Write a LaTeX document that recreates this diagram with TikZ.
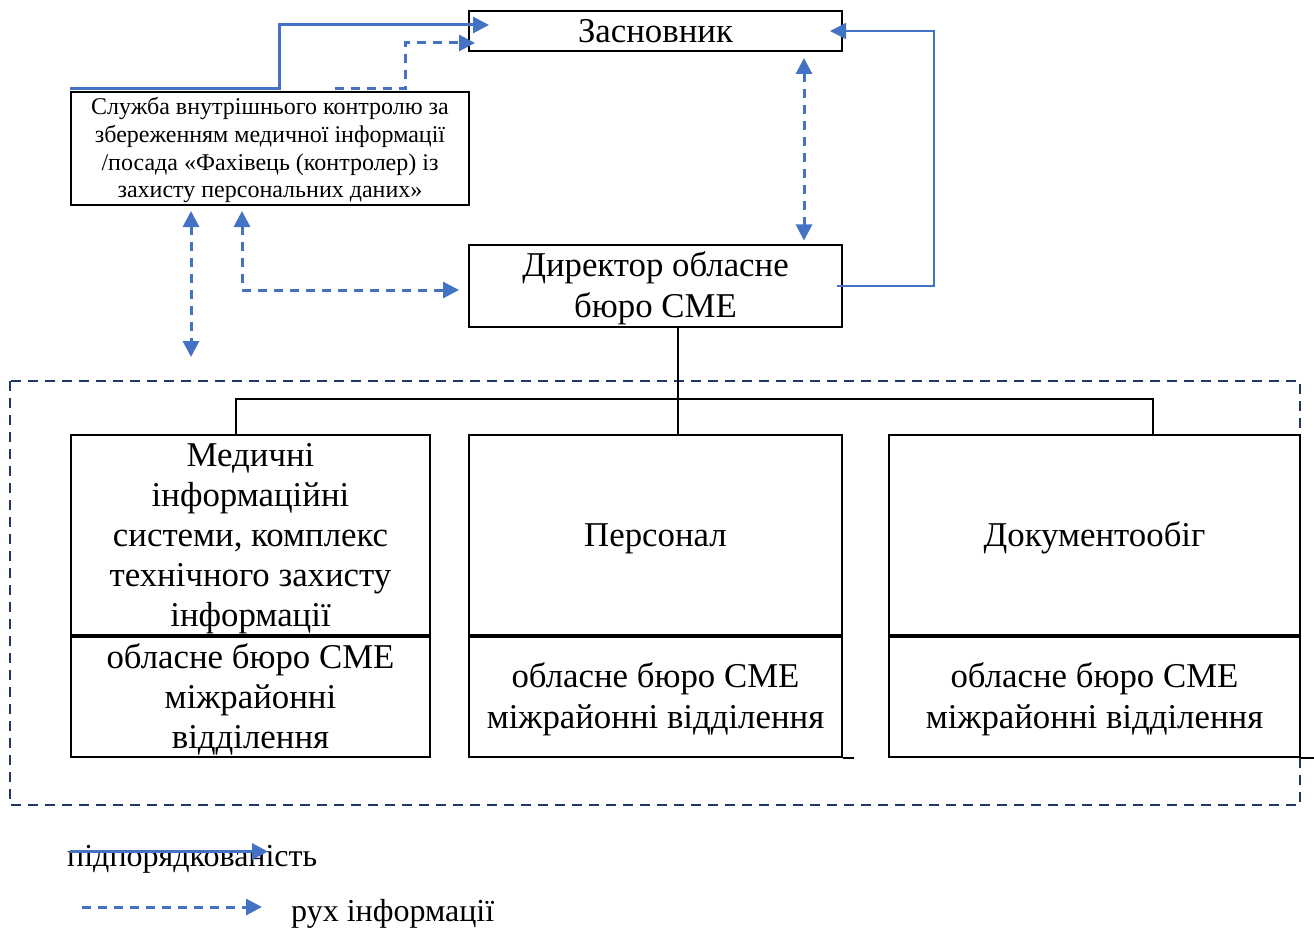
\documentclass[tikz,border=0pt]{standalone}
\usepackage{fontspec}
\setmainfont{Liberation Serif}
\usetikzlibrary{arrows.meta}

\definecolor{linkblue}{HTML}{4472C4}
\definecolor{framenavy}{HTML}{203864}

\newcommand{\bigtext}{\fontsize{34.8}{40}\selectfont}
\newcommand{\smalltext}{\fontsize{24}{27.8}\selectfont}
\newcommand{\legtext}{\fontsize{32}{36}\selectfont}
\newcommand{\ls}{\rule[-0.25em]{0pt}{1.15em}}

\begin{document}
\begin{tikzpicture}[x=1pt,y=-1pt,
  >={Triangle[length=16pt,width=16pt]},
  box/.style={draw,line width=2pt,inner sep=0pt,align=center,font=\bigtext},
  sub/.style={linkblue,line width=3pt,->},
  info/.style={linkblue,line width=3pt,dash pattern=on 9pt off 7pt},
  tree/.style={line width=2pt}]

\useasboundingbox (0,0) rectangle (1314,928);

%====================================================
% Top level
%====================================================
\node[box,minimum width=373pt,minimum height=40pt] (zasn) at (655.5,31) {Засновник};

\node[box,font=\smalltext,minimum width=398pt,minimum height=113pt] (sluzh) at (270,148.5)
{\ls Служба внутрішнього контролю за\\ збереженням медичної інформації\\ /посада «Фахівець (контролер) із\\ захисту персональних даних»\ls};

\node[box,minimum width=373pt,minimum height=80pt] (dyr) at (655.5,286) {\ls Директор обласне\\ бюро СМЕ\ls};

%====================================================
% Units inside the dashed frame
%====================================================
\draw[framenavy,line width=2.2pt,dash pattern=on 10pt off 7pt] (10,381) rectangle (1300,805);

% Left column
\node[box,minimum width=359pt,minimum height=200pt] (medtop) at (250.5,535)
{\ls Медичні\\ інформаційні\\ системи, комплекс\\ технічного захисту\\ інформації\ls};
\node[box,minimum width=359pt,minimum height=120pt,anchor=north] (medbot) at (medtop.south)
{\ls обласне бюро СМЕ\\ міжрайонні\\ відділення\ls};

% Middle column
\node[box,minimum width=373pt,minimum height=200pt] (pers) at (655.5,535) {\ls Персонал\ls};
\node[box,minimum width=373pt,minimum height=120pt,anchor=north] (persbot) at (pers.south)
{\ls обласне бюро СМЕ\\ міжрайонні відділення\ls};

% Right column
\node[box,minimum width=411pt,minimum height=200pt] (doc) at (1094.5,535) {\ls Документообіг\ls};
\node[box,minimum width=411pt,minimum height=120pt,anchor=north] (docbot) at (doc.south)
{\ls обласне бюро СМЕ\\ міжрайонні відділення\ls};

\draw[tree] (persbot.south east) -- ++(11,0);
\draw[tree] (docbot.south east) -- ++(14,0);

% Tree from the director
\coordinate (busL) at (236,399);
\coordinate (busM) at (678,399);
\coordinate (busR) at (1153,399);
\draw[tree] (busM |- dyr.south) -- (busM |- pers.north);
\draw[tree] (busL |- medtop.north) -- (busL) -- (busR) -- (busR |- doc.north);

%====================================================
% Subordination and information flow
%====================================================
\draw[sub,shorten >=-21pt] (sluzh.north west) ++(0,-2) -- ++(209,0) |- ([yshift=6pt]zasn.west);
\draw[info,->,shorten >=-7pt] ([xshift=65pt,yshift=2pt]sluzh.north) -- ++(70,0) |- ([yshift=-12pt]zasn.west);
\draw[linkblue,line width=1.8pt,->,shorten >=-13pt] ([xshift=-6pt]dyr.east) -- ++(97,0) |- (zasn.east);

\draw[info,<->,shorten <=6pt,shorten >=4pt] ([xshift=148.5pt]zasn.south) -- ([xshift=148.5pt]zasn.south |- dyr.north);

\coordinate (lowend) at (191,357);
\draw[info,<->,shorten <=5pt] (sluzh.south -| lowend) -- (lowend);
\draw[info,<->,shorten <=5pt,shorten >=9pt] ([xshift=-28pt]sluzh.south) |- ([yshift=-4pt]dyr.west);

%====================================================
% Legend
%====================================================
\node[font=\legtext,anchor=base west,inner sep=0pt] (legsub) at (67,866.5) {підпорядкованість};
\draw[sub] ([xshift=3pt,yshift=15pt]legsub.base west) -- ++(198,0);

\node[font=\legtext,anchor=base west,inner sep=0pt] (leginfo) at (291,921.5) {рух інформації};
\draw[info,->] ([xshift=-209pt,yshift=14.5pt]leginfo.base west) -- ([xshift=-29pt,yshift=14.5pt]leginfo.base west);

\end{tikzpicture}
\end{document}
